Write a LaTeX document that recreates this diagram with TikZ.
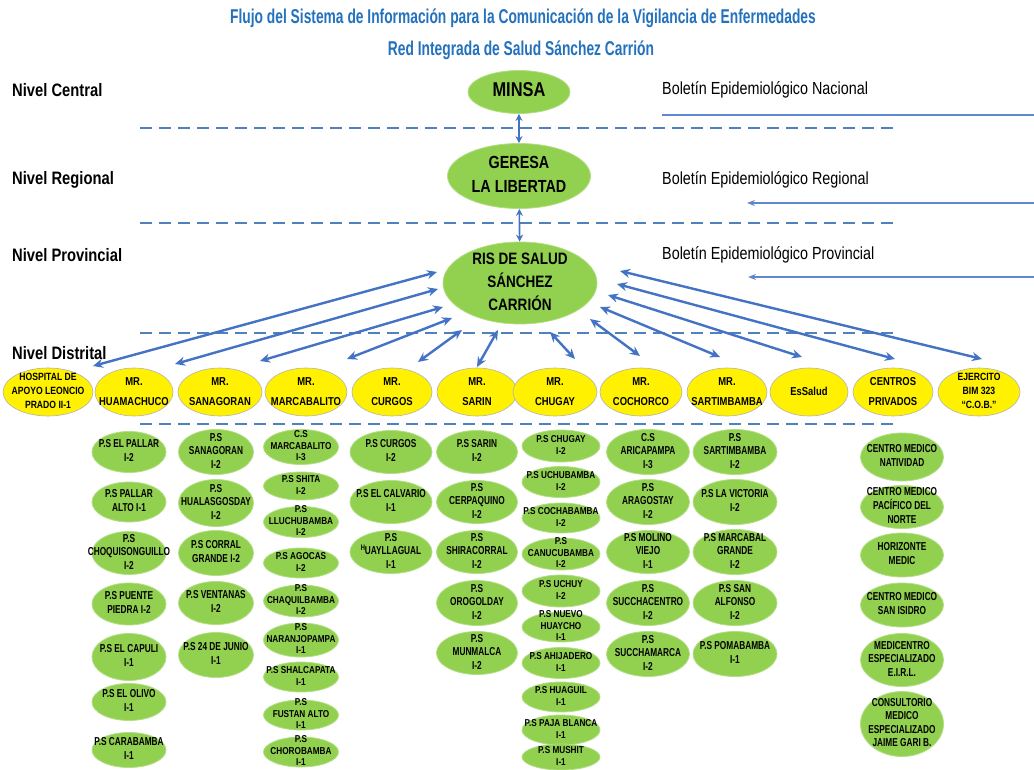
\documentclass[tikz,border=0pt]{standalone}
\usepackage{fontspec}
\setmainfont{Liberation Sans}
\newfontfamily\narrowfont[FakeStretch=0.82]{Liberation Sans}
\newfontfamily\condfont[FakeStretch=0.72]{Liberation Sans}
\newfontfamily\headfont[FakeStretch=0.69]{Liberation Sans}
\usetikzlibrary{arrows.meta,shapes.geometric,calc}
\definecolor{leaf}{RGB}{146,208,80}
\definecolor{leafline}{RGB}{178,222,132}
\definecolor{lemon}{RGB}{255,241,0}
\definecolor{steel}{RGB}{68,114,196}
\definecolor{dashblue}{RGB}{79,129,189}
\definecolor{headblue}{RGB}{36,114,190}
\newcommand{\ovtext}[1]{\makebox[0pt]{\raisebox{-0.25em}[0pt][0pt]{\begin{tabular}{@{}c@{}}#1\end{tabular}}}}
\tikzset{
  >={Stealth[length=10pt,width=9pt]},
  headline/.style={font=\headfont\bfseries\fontsize{20}{22}\selectfont,text=headblue,inner sep=0pt},
  level/.style={anchor=west,inner sep=0pt,font=\narrowfont\bfseries\fontsize{18}{20}\selectfont},
  bulletin/.style={anchor=west,inner sep=0pt,font=\narrowfont\fontsize{17.5}{20}\selectfont},
  top box/.style={ellipse,draw=leafline,line width=0.8pt,fill=leaf,inner sep=0pt,
    font=\narrowfont\bfseries\fontsize{17.5}{24}\selectfont},
  red box/.style={ellipse,draw=black!30,line width=0.6pt,fill=lemon,inner sep=0pt,
    minimum height=48,font=\narrowfont\bfseries\fontsize{11.5}{20}\selectfont},
  three lines/.style={font=\narrowfont\bfseries\fontsize{10.5}{14}\selectfont},
  two lines/.style={},
  post box/.style={ellipse,draw=leafline,line width=0.8pt,fill=leaf,inner sep=0pt,
    font=\condfont\bfseries\fontsize{11.5}{13.5}\selectfont},
  small post/.style={post box,font=\narrowfont\bfseries\fontsize{10}{11.5}\selectfont},
  sep line/.style={draw=dashblue,line width=2pt,dash pattern=on 12pt off 7pt},
  link/.style={<->,draw=steel,line width=2.4pt},
  up link/.style={{Stealth[length=7pt,width=7pt]}-{Stealth[length=7pt,width=7pt]},draw=steel,line width=1.6pt},
  feed/.style={draw=steel!85,line width=1.3pt},
  feed arrow/.style={feed,{Stealth[length=8pt,width=6pt]}-},
}

\begin{document}
\begin{tikzpicture}[x=1pt,y=-1pt]
  \useasboundingbox[fill=white] (0,0) rectangle (1034,770);
  \node[headline] (t1) at (523,18) {Flujo del Sistema de Información para la Comunicación de la Vigilancia de Enfermedades};
  \node[headline] (t2) at (521,50) {Red Integrada de Salud Sánchez Carrión};
  \foreach \n/\y/\t in {lc/90/Central,lr/180/Regional,lp/255/Provincial,ld/353/Distrital}
    \node[level] (\n) at (12,\y) {Nivel \t};
  \foreach \n/\y/\t in {bn/90/Nacional,br/180/Regional,bp/255/Provincial}
    \node[bulletin] (\n) at (662,\y) {Boletín Epidemiológico \t};
  \foreach \y in {128,223,333,424} \draw[sep line] (140,\y) -- (895,\y);

  % niveles central, regional y provincial
  \node[top box,minimum width=102,minimum height=43,font=\narrowfont\bfseries\fontsize{20}{24}\selectfont] (minsa) at (519,92) {\ovtext{MINSA}};
  \node[top box,minimum width=143,minimum height=65] (geresa) at (519,176) {\ovtext{GERESA\\LA LIBERTAD}};
  \node[top box,minimum width=154,minimum height=82,font=\narrowfont\bfseries\fontsize{16.5}{23}\selectfont] (ris) at (520,283) {\ovtext{RIS DE SALUD\\SÁNCHEZ\\CARRIÓN}};
  \draw[up link] (minsa) -- (geresa);
  \draw[up link] (geresa) -- (ris);

  \coordinate (bnE) at (1034,115);
  \coordinate (brE) at (1034,203);
  \coordinate (bpE) at (1034,277);
  \draw[feed] ($(bn.west)+(0,25)$) -- (bnE);
  \draw[feed arrow] ($(br.west)+(85,23)$) -- (brE);
  \draw[feed arrow] ($(bp.west)+(86,22)$) -- (bpE);

  % nivel distrital
  \foreach \n/\x/\w/\s/\t in {hosp/48/90/three lines/{HOSPITAL DE\\APOYO LEONCIO\\PRADO II-1},
      huam/134/78/two lines/{MR.\\HUAMACHUCO},sana/220/84/two lines/{MR.\\SANAGORAN},
      marc/306/82/two lines/{MR.\\MARCABALITO},curg/392/80/two lines/{MR.\\CURGOS},
      sari/477/80/two lines/{MR.\\SARIN},chug/555/84/two lines/{MR.\\CHUGAY},
      coch/641/82/two lines/{MR.\\COCHORCO},sart/727/80/two lines/{MR.\\SARTIMBAMBA},
      essa/809/78/two lines/{EsSalud},cent/893/80/two lines/{CENTROS\\PRIVADOS},
      ejer/979/82/three lines/{EJERCITO\\BIM 323\\“C.O.B.”}}
    \node[red box,\s,minimum width=\w] (\n) at (\x,392) {\ovtext{\t}};

  \foreach \n/\ax/\ay/\bx/\by in {hosp/-83/-11/45/-26,huam/-82/6/41/-28,sana/-77/24/40/-31,
      marc/-68/35/41/-33,curg/-58/47/26/-30,sari/-22/47/0/-25,chug/30/49/20/-33,
      coch/70/36/-1/-36,sart/80/24/-7/-35,essa/88/12/-7/-35,cent/97/1/2/-33,ejer/100/-12/3/-33}
    \draw[link] ($(ris)+(\ax,\ay)$) -- ($(\n)+(\bx,\by)$);

  % establecimientos
  \foreach \y/\h/\t [count=\i] in {452/41/{P.S EL PALLAR\\I-2},502/40/{P.S PALLAR\\ALTO I-1},
      553/43/{P.S\\CHOQUISONGUILLO\\I-2},604/42/{P.S PUENTE\\PIEDRA I-2},657/47/{P.S EL CAPULI\\I-1},
      702/37/{P.S EL OLIVO\\I-1},750/35/{P.S CARABAMBA\\I-1}}
    \node[post box,minimum width=74,minimum height=\h] (hua\i) at (129,\y) {\ovtext{\t}};
  \foreach \y/\h/\t [count=\i] in {452/45/{P.S\\SANAGORAN\\I-2},503/47/{P.S\\HUALASGOSDAY\\I-2},
      553/45/{P.S CORRAL\\GRANDE I-2},603/43/{P.S VENTANAS\\I-2},655/45/{P.S 24 DE JUNIO\\I-1}}
    \node[post box,minimum width=75,minimum height=\h] (san\i) at (216,\y) {\ovtext{\t}};
  \foreach \y/\h/\t [count=\i] in {447/35/{C.S\\MARCABALITO\\I-3},486/28/{P.S SHITA\\I-2},
      522/31/{P.S\\LLUCHUBAMBA\\I-2},563/30/{P.S AGOCAS\\I-2},601/32/{P.S\\CHAQUILBAMBA\\I-2},
      640/34/{P.S\\NARANJOPAMPA\\I-1},677/30/{P.S SHALCAPATA\\I-1},715/30/{P.S\\FUSTAN ALTO\\I-1},
      752/30/{P.S\\CHOROBAMBA\\I-1}}
    \node[small post,minimum width=75,minimum height=\h] (mar\i) at (301,\y) {\ovtext{\t}};
  \foreach \y/\h/\t [count=\i] in {452/43/{P.S CURGOS\\I-2},502/43/{P.S EL CALVARIO\\I-1},
      552/43/{P.S\\\raisebox{4pt}{\fontsize{8}{8}\selectfont H}UAYLLAGUAL\\I-1}}
    \node[post box,minimum width=82,minimum height=\h] (cur\i) at (391,\y) {\ovtext{\t}};
  \foreach \y/\h/\t [count=\i] in {452/43/{P.S SARIN\\I-2},502/43/{P.S\\CERPAQUINO\\I-2},
      552/43/{P.S\\SHIRACORRAL\\I-2},603/45/{P.S\\OROGOLDAY\\I-2},653/43/{P.S\\MUNMALCA\\I-2}}
    \node[post box,minimum width=81,minimum height=\h] (sar\i) at (477,\y) {\ovtext{\t}};
  \foreach \y/\h/\t [count=\i] in {446/32/{P.S CHUGAY\\I-2},482/31/{P.S UCHUBAMBA\\I-2},
      518/30/{P.S COCHABAMBA\\I-2},554/32/{P.S\\CANUCUBAMBA\\I-2},591/32/{P.S UCHUY\\I-2},
      627/30/{P.S NUEVO\\HUAYCHO\\I-1},663/31/{P.S AHIJADERO\\I-1},697/30/{P.S HUAGUIL\\I-1},
      730/30/{P.S PAJA BLANCA\\I-1},757/26/{P.S MUSHIT\\I-1}}
    \node[small post,minimum width=78,minimum height=\h] (chu\i) at (561,\y) {\ovtext{\t}};
  \foreach \y/\h/\t [count=\i] in {452/45/{C.S\\ARICAPAMPA\\I-3},502/45/{P.S\\ARAGOSTAY\\I-2},
      552/43/{P.S MOLINO\\VIEJO\\I-1},603/45/{P.S\\SUCCHACENTRO\\I-2},654/45/{P.S\\SUCCHAMARCA\\I-2}}
    \node[post box,minimum width=83,minimum height=\h] (coc\i) at (648,\y) {\ovtext{\t}};
  \foreach \y/\h/\t [count=\i] in {452/45/{P.S\\SARTIMBAMBA\\I-2},502/45/{P.S LA VICTORIA\\I-2},
      552/45/{P.S MARCABAL\\GRANDE\\I-2},603/45/{P.S SAN\\ALFONSO\\I-2},654/45/{P.S POMABAMBA\\I-1}}
    \node[post box,minimum width=84,minimum height=\h] (sat\i) at (735,\y) {\ovtext{\t}};
  \foreach \y/\h/\t [count=\i] in {457/48/{CENTRO MEDICO\\NATIVIDAD},507/43/{CENTRO MEDICO\\PACÍFICO DEL\\NORTE},
      555/44/{HORIZONTE\\MEDIC},605/44/{CENTRO MEDICO\\SAN ISIDRO},
      660/53/{MEDICENTRO\\ESPECIALIZADO\\E.I.R.L.},724/65/{CONSULTORIO\\MEDICO\\ESPECIALIZADO\\JAIME GARI B.}}
    \node[post box,minimum width=83,minimum height=\h] (pri\i) at (902,\y) {\ovtext{\t}};
\end{tikzpicture}
\end{document}
